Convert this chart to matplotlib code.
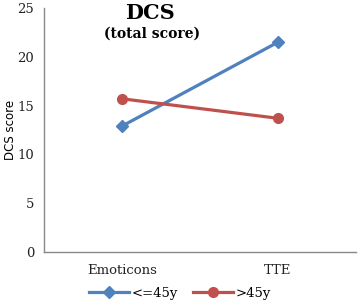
import matplotlib
matplotlib.use("Agg")
import matplotlib.pyplot as plt

categories = ["Emoticons", "TTE"]
young = [12.9, 21.5]   # <=45y
older = [15.7, 13.7]   # >45y
yticks = [0, 5, 10, 15, 20, 25]

plt.rcParams['font.family'] = 'DejaVu Serif'

fig = plt.figure(figsize=(3.58, 3.03), dpi=100)
ax = fig.add_axes([44/358, 51/303, 312/358, 244/303])

x = range(len(categories))
ax.plot(x, young, color='#4F81BD', lw=2.3, marker='D', ms=6, label='<=45y')
ax.plot(x, older, color='#C0504D', lw=2.3, marker='o', ms=7, label='>45y')

ax.set_xlim(-0.5, 1.5)
ax.set_ylim(0, 25)
ax.set_yticks(yticks)
ax.set_xticks(list(x))
ax.set_xticklabels(categories)
ax.tick_params(length=0, labelsize=9.5, colors='#222222')
ax.tick_params(axis='y', pad=7)
ax.tick_params(axis='x', pad=9)
for s in ['top', 'right']:
    ax.spines[s].set_visible(False)
for s in ['left', 'bottom']:
    ax.spines[s].set_color('#888888')
    ax.spines[s].set_linewidth(1)

# y label placed by hand so it stays inside the figure
fig.text(11/358, 1 - 130/303, "DCS score", family='DejaVu Sans', fontsize=8.5,
         rotation=90, ha='center', va='center')

fig.text(150/358, 1 - 3/303, "DCS", ha='center', va='top',
         fontsize=15, fontweight='bold')
fig.text(152/358, 1 - 27/303, "(total score)", ha='center', va='top',
         fontsize=10, fontweight='bold')

fig.legend(loc='center', bbox_to_anchor=(180/358, 1 - 293/303), ncol=2,
           frameon=False, fontsize=9.5, handlelength=3, columnspacing=1.2,
           handletextpad=0.2)

fig.savefig("out.png", dpi=100)
